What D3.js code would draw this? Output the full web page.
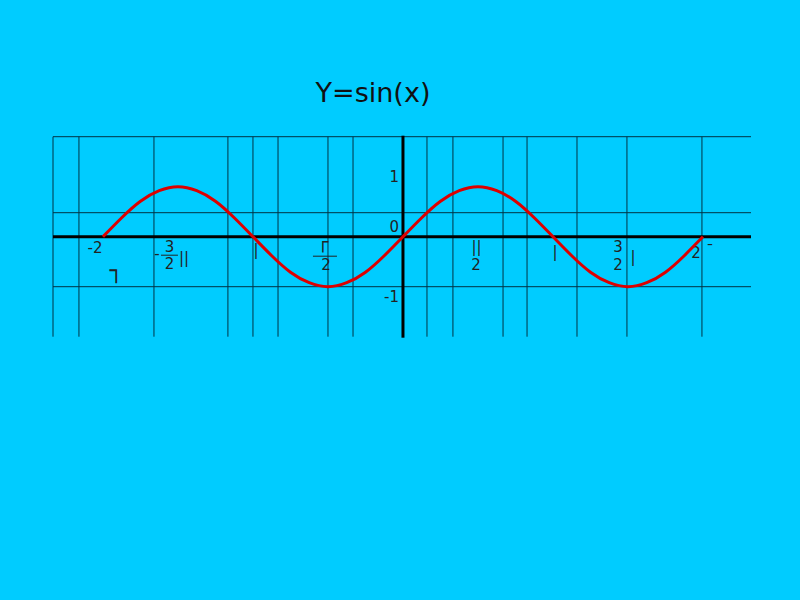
<!DOCTYPE html>
<html>
<head>
<meta charset="utf-8">
<script src="https://cdn.jsdelivr.net/npm/d3@7"></script>
<style>
  html, body { margin: 0; padding: 0; background: #00ccff; }
  text { font-family: "DejaVu Sans", sans-serif; fill: #111; }
</style>
</head>
<body>
<div id="my_dataviz"></div>
<script>
var width = 800
var height = 600

// x values in units of pi, y values
var curveX = [-2, -1.875, -1.75, -1.625, -1.5, -1.375, -1.25, -1.125, -1, -0.875, -0.75, -0.625, -0.5, -0.375, -0.25, -0.125,
  0, 0.125, 0.25, 0.375, 0.5, 0.625, 0.75, 0.875, 1, 1.125, 1.25, 1.375, 1.5, 1.625, 1.75, 1.875, 2]
var curveY = [0, 0.38, 0.71, 0.92, 1, 0.92, 0.71, 0.38, 0, -0.38, -0.71, -0.92, -1, -0.92, -0.71, -0.38,
  0, 0.38, 0.71, 0.92, 1, 0.92, 0.71, 0.38, 0, -0.38, -0.71, -0.92, -1, -0.92, -0.71, -0.38, 0]

// grid lines (x in pi units, y in units)
var gridX = [-2.333, -2.16, -1.66, -1.167, -1, -0.833, -0.5, -0.333, 0.16, 0.333, 0.667, 0.827, 1.16, 1.493, 1.993]
var gridY = [2, 0.48, -1]

// tick labels on the x axis (position in pi units / y units)
var xLabels = [
  {t: "-2", x: -2.053, y: -0.33},
  {t: "-", x: -1.64, y: -0.44},
  {t: "3", x: -1.557, y: -0.31},
  {t: "2", x: -1.557, y: -0.65},
  {t: "||", x: -1.46, y: -0.53},
  {t: "|", x: -0.98, y: -0.36},
  {t: "2", x: -0.513, y: -0.67},
  {t: "||", x: 0.49, y: -0.31},
  {t: "2", x: 0.487, y: -0.67},
  {t: "|", x: 1.013, y: -0.41},
  {t: "3", x: 1.433, y: -0.31},
  {t: "2", x: 1.433, y: -0.67},
  {t: "|", x: 1.533, y: -0.51},
  {t: "2", x: 1.953, y: -0.43},
  {t: "¯", x: 2.047, y: -0.39}
]
// broken pi glyphs drawn with box characters
var boxLabels = [
  {t: "┐", x: -1.913, y: -0.818, s: 22},
  {t: "┌", x: -0.533, y: -0.23, s: 18}
]
// fraction bars [from, to, y]
var fracBars = [[-1.613, -1.5, -0.37], [-0.6, -0.44, -0.39]]

var yLabels = [
  {t: "1", y: 1.09},
  {t: "0", y: 0.094},
  {t: "-1", y: -1.31}
]

var svg = d3.select("#my_dataviz")
  .append("svg")
    .attr("width", width)
    .attr("height", height)

svg.append("rect")
  .attr("width", width)
  .attr("height", height)
  .attr("fill", "#00ccff")

var x = d3.scaleLinear()
  .domain([-2.333, 2.32])
  .range([53, 751])

var y = d3.scaleLinear()
  .domain([-2, 2])
  .range([336.7, 136.7])

svg.append("text")
  .attr("x", 373)
  .attr("y", 102)
  .attr("text-anchor", "middle")
  .style("font-size", "27px")
  .text("Y=sin(x)")

// grid
svg.append("g")
  .selectAll("line")
  .data(gridX)
  .enter()
  .append("line")
    .attr("x1", function(d){ return x(d) })
    .attr("x2", function(d){ return x(d) })
    .attr("y1", y(2))
    .attr("y2", y(-2))
    .attr("stroke", "#003344")
    .attr("stroke-width", 1)

svg.append("g")
  .selectAll("line")
  .data(gridY)
  .enter()
  .append("line")
    .attr("x1", x(-2.333))
    .attr("x2", x(2.32))
    .attr("y1", function(d){ return y(d) })
    .attr("y2", function(d){ return y(d) })
    .attr("stroke", "#003344")
    .attr("stroke-width", 1)

// axes
svg.append("line")
  .attr("x1", x(-2.333)).attr("x2", x(2.32))
  .attr("y1", y(0)).attr("y2", y(0))
  .attr("stroke", "#000").attr("stroke-width", 3)

svg.append("line")
  .attr("x1", x(0)).attr("x2", x(0))
  .attr("y1", y(2.02)).attr("y2", y(-2.02))
  .attr("stroke", "#000").attr("stroke-width", 3)

// labels
svg.append("g")
  .selectAll("text")
  .data(xLabels)
  .enter()
  .append("text")
    .attr("x", function(d){ return x(d.x) })
    .attr("y", function(d){ return y(d.y) })
    .attr("text-anchor", "middle")
    .style("font-size", "15px")
    .style("fill", "#222")
    .text(function(d){ return d.t })

svg.append("g")
  .selectAll("text")
  .data(boxLabels)
  .enter()
  .append("text")
    .attr("x", function(d){ return x(d.x) })
    .attr("y", function(d){ return y(d.y) })
    .attr("text-anchor", "middle")
    .style("font-family", "'DejaVu Sans Mono', monospace")
    .style("font-size", function(d){ return d.s + "px" })
    .style("fill", "#222")
    .text(function(d){ return d.t })

svg.append("g")
  .selectAll("line")
  .data(fracBars)
  .enter()
  .append("line")
    .attr("x1", function(d){ return x(d[0]) })
    .attr("x2", function(d){ return x(d[1]) })
    .attr("y1", function(d){ return y(d[2]) })
    .attr("y2", function(d){ return y(d[2]) })
    .attr("stroke", "#222")
    .attr("stroke-width", 1)

svg.append("g")
  .selectAll("text")
  .data(yLabels)
  .enter()
  .append("text")
    .attr("x", x(0) - 4)
    .attr("y", function(d){ return y(d.y) })
    .attr("text-anchor", "end")
    .style("font-size", "15px")
    .style("fill", "#222")
    .text(function(d){ return d.t })

// the sine curve
var pts = curveX.map(function(d, i){ return [d, curveY[i]] })
var line = d3.line()
  .x(function(d){ return x(d[0]) })
  .y(function(d){ return y(d[1]) })
  .curve(d3.curveNatural)

svg.append("path")
  .datum(pts)
  .attr("d", line)
  .attr("fill", "none")
  .attr("stroke", "#dd0000")
  .attr("stroke-width", 3)
</script>
</body>
</html>
